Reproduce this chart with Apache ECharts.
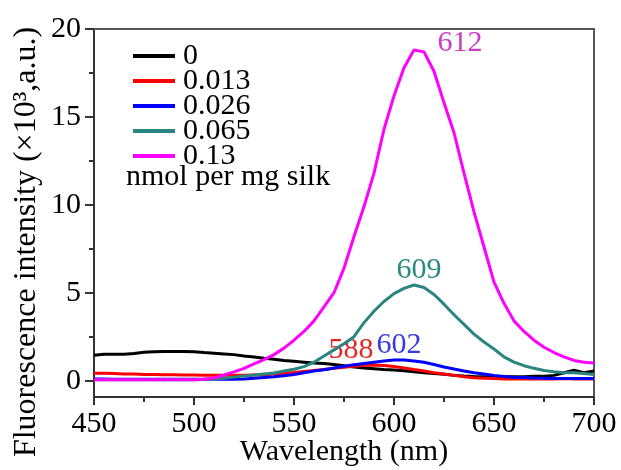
<!DOCTYPE html>
<html><head><meta charset="utf-8">
<script src="https://cdn.jsdelivr.net/npm/echarts@6/dist/echarts.min.js"></script>
<style>html,body{margin:0;padding:0;background:#fff}#c{width:621px;height:470px}</style>
</head><body><div id="c"></div>
<script>
const wavelengths = [450,455,460,465,470,475,480,485,490,495,500,505,510,515,520,525,530,535,540,545,550,555,560,565,570,575,580,585,590,595,600,605,610,615,620,625,630,635,640,645,650,655,660,665,670,675,680,685,690,695,700];
const conc0 = [1.45,1.5,1.5,1.5,1.55,1.62,1.65,1.66,1.66,1.66,1.65,1.6,1.56,1.52,1.48,1.4,1.34,1.27,1.22,1.15,1.1,1.05,1.0,0.97,0.92,0.85,0.78,0.72,0.68,0.63,0.6,0.56,0.5,0.45,0.4,0.36,0.3,0.26,0.23,0.22,0.22,0.22,0.22,0.22,0.25,0.25,0.3,0.45,0.6,0.45,0.55];
const conc013 = [0.42,0.42,0.4,0.38,0.38,0.35,0.35,0.33,0.33,0.32,0.32,0.3,0.3,0.3,0.3,0.3,0.32,0.34,0.38,0.42,0.46,0.52,0.58,0.64,0.7,0.76,0.82,0.87,0.89,0.86,0.8,0.72,0.63,0.55,0.45,0.38,0.3,0.22,0.16,0.14,0.12,0.1,0.1,0.1,0.1,0.1,0.1,0.12,0.1,0.1,0.1];
const conc026 = [0.1,0.09,0.08,0.08,0.08,0.08,0.08,0.08,0.08,0.08,0.08,0.08,0.08,0.08,0.08,0.1,0.14,0.18,0.22,0.28,0.35,0.45,0.55,0.62,0.72,0.82,0.9,0.98,1.05,1.12,1.17,1.17,1.12,1.05,0.92,0.78,0.66,0.55,0.45,0.38,0.3,0.24,0.2,0.18,0.15,0.14,0.12,0.12,0.12,0.12,0.12];
const conc065 = [0.05,0.05,0.05,0.05,0.05,0.05,0.05,0.05,0.05,0.05,0.05,0.07,0.1,0.14,0.2,0.26,0.32,0.38,0.44,0.55,0.65,0.8,1.05,1.4,1.75,2.1,2.5,3.3,3.95,4.5,4.95,5.25,5.44,5.3,4.9,4.35,3.75,3.2,2.65,2.2,1.8,1.35,1.05,0.85,0.7,0.58,0.5,0.45,0.45,0.4,0.35];
const conc13 = [0.05,0.05,0.05,0.05,0.05,0.05,0.05,0.05,0.05,0.05,0.05,0.08,0.15,0.32,0.5,0.7,0.95,1.2,1.48,1.85,2.3,2.8,3.4,4.2,5.0,6.4,8.2,9.9,11.8,14.3,16.2,17.8,18.8,18.7,17.6,15.8,14.1,11.8,9.6,7.6,5.6,4.4,3.4,2.8,2.3,1.9,1.6,1.35,1.15,1.05,1.0];
const seriesNames = ['0','0.013','0.026','0.065','0.13'];
const seriesValues = [conc0, conc013, conc026, conc065, conc13];
const seriesColors = ['#000000','#ff0000','#0000ff','#2a8580','#ff00ff'];
const peakSeries = [4, 3, 2, 1];
const peakWavelengths = [612, 609, 602, 588];
const peakValues = [18.9, 5.44, 1.17, 0.89];
const peakLabels = ['612','609','602','588'];
const peakColors = ['#cc3dc4','#2a8a80','#3a3ae0','#e02828'];
const peakOffsets = [[42,-5],[7,-15],[1,-15],[-19,-15]];
const yMajorTicks = [0,5,10,15,20];
const yMinorTicks = [2.5,7.5,12.5,17.5];
const legendNote = 'nmol per mg silk';
const xName = 'Wavelength (nm)';
const yName = 'Fluorescence intensity (×10³,a.u.)';

const FONT = 'Liberation Serif';
const richT = {t: {fontFamily: FONT, fontSize: 30, color: '#000'}};
const chart = echarts.init(document.getElementById('c'));
const series = seriesNames.map((n, i) => {
  const s = {
    name: n, type: 'line', xAxisIndex: 0, yAxisIndex: 0,
    data: wavelengths.map((w, k) => [w, seriesValues[i][k]]),
    showSymbol: false, symbol: 'none',
    lineStyle: {color: seriesColors[i], width: 3},
    itemStyle: {color: seriesColors[i]},
    z: 2 + i, animation: false
  };
  const p = peakSeries.indexOf(i);
  if (p >= 0) {
    s.markPoint = {
      symbol: 'circle', symbolSize: 1, itemStyle: {color: 'rgba(0,0,0,0)'},
      animation: false,
      data: [{coord: [peakWavelengths[p], peakValues[p]], value: peakLabels[p],
        label: {show: true, position: 'inside', formatter: peakLabels[p], color: peakColors[p],
          fontSize: 30, fontFamily: FONT, offset: peakOffsets[p]}}]
    };
  }
  return s;
});
chart.setOption({
  animation: false,
  backgroundColor: '#fff',
  textStyle: {fontFamily: FONT},
  grid: {left: 94, right: 27, top: 29, bottom: 73, containLabel: false, outerBoundsMode: 'none'},
  legend: {
    orient: 'vertical', left: 128, top: 36, icon: 'rect', itemWidth: 42, itemHeight: 4,
    itemGap: -5, selectedMode: false,
    data: seriesNames,
    formatter: n => '{t|' + n + '}',
    textStyle: {fontFamily: FONT, fontSize: 30, color: '#000', padding: [0,0,0,3], rich: richT}
  },
  xAxis: [{
    type: 'value', position: 'bottom', min: 450, max: 700, interval: 50,
    axisLine: {show: true, onZero: false, lineStyle: {color: '#333', width: 2}},
    axisTick: {show: true, inside: false, length: 8, lineStyle: {color: '#333', width: 2}},
    minorTick: {show: true, splitNumber: 2, length: 5, lineStyle: {color: '#333', width: 2}},
    axisLabel: {fontFamily: FONT, fontSize: 30, color: '#000', margin: 12, formatter: v => '{t|' + v + '}', rich: richT},
    splitLine: {show: false},
    name: xName, nameLocation: 'middle', nameGap: 40, nameMoveOverlap: false,
    nameTextStyle: {fontFamily: FONT, fontSize: 30, color: '#000'}
  }, {
    type: 'value', position: 'top', min: 450, max: 700,
    axisLine: {show: true, onZero: false, lineStyle: {color: '#555', width: 2}},
    axisTick: {show: false}, axisLabel: {show: false}, splitLine: {show: false}
  }],
  yAxis: [{
    type: 'value', position: 'left', min: -0.93, max: 20,
    axisLine: {show: true, onZero: false, lineStyle: {color: '#333', width: 2}},
    axisTick: {show: true, inside: false, length: 9, customValues: yMajorTicks, lineStyle: {color: '#333', width: 2}},
    axisLabel: {fontFamily: FONT, fontSize: 30, color: '#000', margin: 13, customValues: yMajorTicks, formatter: v => '{t|' + v + '}', rich: richT},
    splitLine: {show: false}
  }, {
    type: 'value', position: 'left', min: -0.93, max: 20,
    axisLine: {show: false, onZero: false},
    axisTick: {show: true, inside: false, length: 5, customValues: yMinorTicks, lineStyle: {color: '#333', width: 2}},
    axisLabel: {show: false}, splitLine: {show: false}
  }, {
    type: 'value', position: 'right', min: -0.93, max: 20,
    axisLine: {show: true, onZero: false, lineStyle: {color: '#555', width: 2}},
    axisTick: {show: false}, axisLabel: {show: false}, splitLine: {show: false}
  }],
  graphic: [{
    type: 'text', left: 126, top: 162,
    style: {text: legendNote, fontFamily: FONT, fontSize: 30, fill: '#000'}
  }, {
    type: 'text', x: 27, y: 242, rotation: Math.PI / 2,
    style: {text: yName, fontFamily: FONT, fontSize: 32, fill: '#000', align: 'center', verticalAlign: 'middle'}
  }],
  series: series
});
</script></body></html>
